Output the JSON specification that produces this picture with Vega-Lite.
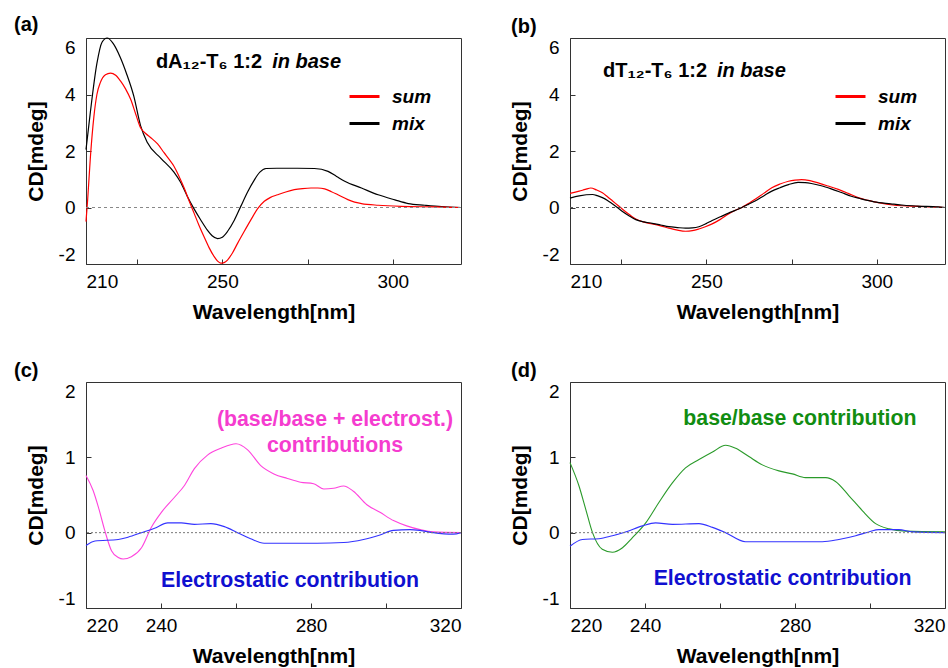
{
  "$schema": "https://vega.github.io/schema/vega-lite/v6.json",
  "background": "white",
  "padding": {"left": 13, "top": 14, "right": 0, "bottom": 0},
  "bounds": "flush",
  "columns": 2,
  "spacing": {"row": 118, "column": 109},
  "resolve": {"scale": {"color": "independent"}, "legend": {"color": "independent"}},
  "datasets": {
    "a": [
      {"wl":210,"cd":2.05,"s":"mix"},{"wl":211.3,"cd":3.4,"s":"mix"},{"wl":213.2,"cd":5.1,"s":"mix"},{"wl":214.7,"cd":5.85,"s":"mix"},{"wl":216.2,"cd":6.0,"s":"mix"},{"wl":218,"cd":5.8,"s":"mix"},{"wl":220.1,"cd":5.3,"s":"mix"},{"wl":222,"cd":4.7,"s":"mix"},{"wl":224,"cd":3.95,"s":"mix"},{"wl":226,"cd":2.9,"s":"mix"},{"wl":228,"cd":2.3,"s":"mix"},{"wl":231.9,"cd":1.75,"s":"mix"},{"wl":235.8,"cd":1.25,"s":"mix"},{"wl":237.7,"cd":0.9,"s":"mix"},{"wl":239.7,"cd":0.4,"s":"mix"},{"wl":241.7,"cd":-0.05,"s":"mix"},{"wl":243.7,"cd":-0.45,"s":"mix"},{"wl":245.6,"cd":-0.8,"s":"mix"},{"wl":247,"cd":-1.0,"s":"mix"},{"wl":248.6,"cd":-1.1,"s":"mix"},{"wl":250,"cd":-1.05,"s":"mix"},{"wl":251.5,"cd":-0.85,"s":"mix"},{"wl":253.5,"cd":-0.45,"s":"mix"},{"wl":255.4,"cd":0.04,"s":"mix"},{"wl":257.4,"cd":0.55,"s":"mix"},{"wl":259.4,"cd":0.98,"s":"mix"},{"wl":261,"cd":1.25,"s":"mix"},{"wl":262.8,"cd":1.38,"s":"mix"},{"wl":266,"cd":1.39,"s":"mix"},{"wl":272,"cd":1.39,"s":"mix"},{"wl":277,"cd":1.38,"s":"mix"},{"wl":281,"cd":1.28,"s":"mix"},{"wl":283.5,"cd":1.1,"s":"mix"},{"wl":285.9,"cd":0.93,"s":"mix"},{"wl":290.8,"cd":0.69,"s":"mix"},{"wl":295.7,"cd":0.45,"s":"mix"},{"wl":300.6,"cd":0.27,"s":"mix"},{"wl":304.5,"cd":0.14,"s":"mix"},{"wl":309.4,"cd":0.08,"s":"mix"},{"wl":314.3,"cd":0.03,"s":"mix"},{"wl":320,"cd":0,"s":"mix"},
      {"wl":210,"cd":-0.5,"s":"sum"},{"wl":210.5,"cd":0.3,"s":"sum"},{"wl":211.3,"cd":1.8,"s":"sum"},{"wl":212.3,"cd":3.2,"s":"sum"},{"wl":213.2,"cd":4.0,"s":"sum"},{"wl":214.2,"cd":4.42,"s":"sum"},{"wl":215.7,"cd":4.7,"s":"sum"},{"wl":217.2,"cd":4.76,"s":"sum"},{"wl":218.7,"cd":4.68,"s":"sum"},{"wl":220.1,"cd":4.48,"s":"sum"},{"wl":221.6,"cd":4.2,"s":"sum"},{"wl":223.1,"cd":3.83,"s":"sum"},{"wl":224.6,"cd":3.3,"s":"sum"},{"wl":226,"cd":2.82,"s":"sum"},{"wl":227.5,"cd":2.62,"s":"sum"},{"wl":229,"cd":2.47,"s":"sum"},{"wl":231,"cd":2.25,"s":"sum"},{"wl":232.9,"cd":1.94,"s":"sum"},{"wl":234.4,"cd":1.7,"s":"sum"},{"wl":235.8,"cd":1.46,"s":"sum"},{"wl":237.3,"cd":1.1,"s":"sum"},{"wl":238.8,"cd":0.69,"s":"sum"},{"wl":240.2,"cd":0.25,"s":"sum"},{"wl":241.7,"cd":-0.2,"s":"sum"},{"wl":243.1,"cd":-0.62,"s":"sum"},{"wl":244.6,"cd":-1.03,"s":"sum"},{"wl":246.1,"cd":-1.42,"s":"sum"},{"wl":247.6,"cd":-1.74,"s":"sum"},{"wl":248.6,"cd":-1.9,"s":"sum"},{"wl":249.5,"cd":-1.97,"s":"sum"},{"wl":250.5,"cd":-1.95,"s":"sum"},{"wl":251.5,"cd":-1.86,"s":"sum"},{"wl":253,"cd":-1.6,"s":"sum"},{"wl":254.5,"cd":-1.26,"s":"sum"},{"wl":256.4,"cd":-0.85,"s":"sum"},{"wl":258.4,"cd":-0.43,"s":"sum"},{"wl":260.3,"cd":-0.05,"s":"sum"},{"wl":262.3,"cd":0.22,"s":"sum"},{"wl":264,"cd":0.35,"s":"sum"},{"wl":266.2,"cd":0.45,"s":"sum"},{"wl":268.6,"cd":0.55,"s":"sum"},{"wl":271.1,"cd":0.63,"s":"sum"},{"wl":273.5,"cd":0.67,"s":"sum"},{"wl":276,"cd":0.69,"s":"sum"},{"wl":278,"cd":0.69,"s":"sum"},{"wl":280,"cd":0.66,"s":"sum"},{"wl":282,"cd":0.56,"s":"sum"},{"wl":283.9,"cd":0.45,"s":"sum"},{"wl":286.8,"cd":0.28,"s":"sum"},{"wl":288.8,"cd":0.19,"s":"sum"},{"wl":290.8,"cd":0.14,"s":"sum"},{"wl":295.7,"cd":0.08,"s":"sum"},{"wl":302.5,"cd":0.04,"s":"sum"},{"wl":312.4,"cd":0.02,"s":"sum"},{"wl":320,"cd":0,"s":"sum"}
    ],
    "b": [
      {"wl":210,"cd":0.5,"s":"sum"},{"wl":212.7,"cd":0.58,"s":"sum"},{"wl":214.5,"cd":0.64,"s":"sum"},{"wl":216.1,"cd":0.69,"s":"sum"},{"wl":217.8,"cd":0.62,"s":"sum"},{"wl":219.5,"cd":0.52,"s":"sum"},{"wl":221,"cd":0.38,"s":"sum"},{"wl":222.5,"cd":0.23,"s":"sum"},{"wl":224,"cd":0.08,"s":"sum"},{"wl":225.4,"cd":-0.06,"s":"sum"},{"wl":227.4,"cd":-0.25,"s":"sum"},{"wl":229.3,"cd":-0.41,"s":"sum"},{"wl":231.7,"cd":-0.52,"s":"sum"},{"wl":234.1,"cd":-0.58,"s":"sum"},{"wl":236.6,"cd":-0.65,"s":"sum"},{"wl":239,"cd":-0.73,"s":"sum"},{"wl":241.5,"cd":-0.8,"s":"sum"},{"wl":243.9,"cd":-0.84,"s":"sum"},{"wl":245.9,"cd":-0.82,"s":"sum"},{"wl":247.8,"cd":-0.76,"s":"sum"},{"wl":249.7,"cd":-0.68,"s":"sum"},{"wl":251.7,"cd":-0.58,"s":"sum"},{"wl":254.1,"cd":-0.42,"s":"sum"},{"wl":256.5,"cd":-0.23,"s":"sum"},{"wl":258.5,"cd":-0.1,"s":"sum"},{"wl":260.4,"cd":0,"s":"sum"},{"wl":262.3,"cd":0.14,"s":"sum"},{"wl":264.3,"cd":0.29,"s":"sum"},{"wl":266.8,"cd":0.5,"s":"sum"},{"wl":269.2,"cd":0.7,"s":"sum"},{"wl":271.6,"cd":0.83,"s":"sum"},{"wl":274.1,"cd":0.93,"s":"sum"},{"wl":276,"cd":0.97,"s":"sum"},{"wl":277.9,"cd":0.99,"s":"sum"},{"wl":280.4,"cd":0.95,"s":"sum"},{"wl":282.8,"cd":0.87,"s":"sum"},{"wl":285.7,"cd":0.76,"s":"sum"},{"wl":288.7,"cd":0.64,"s":"sum"},{"wl":291.6,"cd":0.5,"s":"sum"},{"wl":294.5,"cd":0.35,"s":"sum"},{"wl":297.5,"cd":0.25,"s":"sum"},{"wl":300.4,"cd":0.17,"s":"sum"},{"wl":305.2,"cd":0.08,"s":"sum"},{"wl":310.1,"cd":0.05,"s":"sum"},{"wl":314,"cd":0.03,"s":"sum"},{"wl":317.9,"cd":0.01,"s":"sum"},{"wl":320,"cd":0,"s":"sum"},
      {"wl":210,"cd":0.33,"s":"mix"},{"wl":212.7,"cd":0.41,"s":"mix"},{"wl":216.6,"cd":0.46,"s":"mix"},{"wl":218,"cd":0.42,"s":"mix"},{"wl":219.5,"cd":0.35,"s":"mix"},{"wl":221,"cd":0.25,"s":"mix"},{"wl":222.5,"cd":0.12,"s":"mix"},{"wl":224,"cd":-0.01,"s":"mix"},{"wl":225.4,"cd":-0.14,"s":"mix"},{"wl":227.4,"cd":-0.3,"s":"mix"},{"wl":229.3,"cd":-0.43,"s":"mix"},{"wl":231.7,"cd":-0.51,"s":"mix"},{"wl":234.1,"cd":-0.56,"s":"mix"},{"wl":236.6,"cd":-0.62,"s":"mix"},{"wl":239,"cd":-0.68,"s":"mix"},{"wl":241.5,"cd":-0.71,"s":"mix"},{"wl":243.9,"cd":-0.73,"s":"mix"},{"wl":245.9,"cd":-0.72,"s":"mix"},{"wl":247.8,"cd":-0.68,"s":"mix"},{"wl":249.8,"cd":-0.58,"s":"mix"},{"wl":251.7,"cd":-0.46,"s":"mix"},{"wl":254.1,"cd":-0.33,"s":"mix"},{"wl":256.5,"cd":-0.2,"s":"mix"},{"wl":258.5,"cd":-0.1,"s":"mix"},{"wl":260.4,"cd":0,"s":"mix"},{"wl":262.3,"cd":0.11,"s":"mix"},{"wl":264.3,"cd":0.23,"s":"mix"},{"wl":266.8,"cd":0.41,"s":"mix"},{"wl":269.2,"cd":0.58,"s":"mix"},{"wl":271.6,"cd":0.7,"s":"mix"},{"wl":274.1,"cd":0.81,"s":"mix"},{"wl":276.9,"cd":0.89,"s":"mix"},{"wl":279,"cd":0.88,"s":"mix"},{"wl":280.8,"cd":0.85,"s":"mix"},{"wl":283.7,"cd":0.77,"s":"mix"},{"wl":286.6,"cd":0.66,"s":"mix"},{"wl":289.6,"cd":0.53,"s":"mix"},{"wl":292.5,"cd":0.4,"s":"mix"},{"wl":295,"cd":0.32,"s":"mix"},{"wl":297.3,"cd":0.25,"s":"mix"},{"wl":299.2,"cd":0.2,"s":"mix"},{"wl":304.1,"cd":0.13,"s":"mix"},{"wl":308,"cd":0.08,"s":"mix"},{"wl":312,"cd":0.05,"s":"mix"},{"wl":317.9,"cd":0.02,"s":"mix"},{"wl":320,"cd":0,"s":"mix"}
    ],
    "c": [
      {"wl":220,"cd":0.76,"s":"bb"},{"wl":221.9,"cd":0.56,"s":"bb"},{"wl":223.3,"cd":0.34,"s":"bb"},{"wl":225,"cd":0.03,"s":"bb"},{"wl":226.8,"cd":-0.24,"s":"bb"},{"wl":228.6,"cd":-0.33,"s":"bb"},{"wl":229.9,"cd":-0.35,"s":"bb"},{"wl":232.1,"cd":-0.32,"s":"bb"},{"wl":234.8,"cd":-0.2,"s":"bb"},{"wl":237.4,"cd":0.07,"s":"bb"},{"wl":240.1,"cd":0.27,"s":"bb"},{"wl":243.6,"cd":0.47,"s":"bb"},{"wl":246.3,"cd":0.63,"s":"bb"},{"wl":248.9,"cd":0.85,"s":"bb"},{"wl":252.4,"cd":1.03,"s":"bb"},{"wl":256,"cd":1.12,"s":"bb"},{"wl":260,"cd":1.18,"s":"bb"},{"wl":263.1,"cd":1.1,"s":"bb"},{"wl":266.6,"cd":0.89,"s":"bb"},{"wl":270.1,"cd":0.78,"s":"bb"},{"wl":273.7,"cd":0.72,"s":"bb"},{"wl":277.2,"cd":0.67,"s":"bb"},{"wl":280.7,"cd":0.65,"s":"bb"},{"wl":283.4,"cd":0.58,"s":"bb"},{"wl":286,"cd":0.59,"s":"bb"},{"wl":288.7,"cd":0.62,"s":"bb"},{"wl":291.3,"cd":0.55,"s":"bb"},{"wl":294.9,"cd":0.37,"s":"bb"},{"wl":298.4,"cd":0.27,"s":"bb"},{"wl":302,"cd":0.16,"s":"bb"},{"wl":305.5,"cd":0.09,"s":"bb"},{"wl":309.1,"cd":0.04,"s":"bb"},{"wl":312.6,"cd":0.01,"s":"bb"},{"wl":320,"cd":0,"s":"bb"},
      {"wl":220,"cd":-0.17,"s":"el"},{"wl":222.4,"cd":-0.11,"s":"el"},{"wl":228.6,"cd":-0.09,"s":"el"},{"wl":231.2,"cd":-0.06,"s":"el"},{"wl":234.8,"cd":0,"s":"el"},{"wl":238.3,"cd":0.06,"s":"el"},{"wl":241.8,"cd":0.13,"s":"el"},{"wl":245.4,"cd":0.13,"s":"el"},{"wl":248.9,"cd":0.11,"s":"el"},{"wl":253.3,"cd":0.12,"s":"el"},{"wl":256.9,"cd":0.08,"s":"el"},{"wl":260.4,"cd":0,"s":"el"},{"wl":263.9,"cd":-0.08,"s":"el"},{"wl":267.5,"cd":-0.14,"s":"el"},{"wl":272.8,"cd":-0.14,"s":"el"},{"wl":281.6,"cd":-0.14,"s":"el"},{"wl":288.7,"cd":-0.13,"s":"el"},{"wl":294,"cd":-0.09,"s":"el"},{"wl":298.4,"cd":-0.03,"s":"el"},{"wl":302,"cd":0.03,"s":"el"},{"wl":306.4,"cd":0.04,"s":"el"},{"wl":309,"cd":0.03,"s":"el"},{"wl":312.6,"cd":0,"s":"el"},{"wl":317.9,"cd":-0.02,"s":"el"},{"wl":320,"cd":0,"s":"el"}
    ],
    "d": [
      {"wl":220,"cd":0.93,"s":"bb"},{"wl":222.4,"cd":0.62,"s":"bb"},{"wl":224.2,"cd":0.31,"s":"bb"},{"wl":226,"cd":0,"s":"bb"},{"wl":228.6,"cd":-0.22,"s":"bb"},{"wl":231.3,"cd":-0.26,"s":"bb"},{"wl":234,"cd":-0.2,"s":"bb"},{"wl":236.6,"cd":-0.07,"s":"bb"},{"wl":240.2,"cd":0.13,"s":"bb"},{"wl":243.7,"cd":0.4,"s":"bb"},{"wl":247.3,"cd":0.66,"s":"bb"},{"wl":250.8,"cd":0.86,"s":"bb"},{"wl":254.4,"cd":0.97,"s":"bb"},{"wl":258,"cd":1.07,"s":"bb"},{"wl":261.5,"cd":1.16,"s":"bb"},{"wl":264.2,"cd":1.12,"s":"bb"},{"wl":267.7,"cd":1.01,"s":"bb"},{"wl":271.3,"cd":0.9,"s":"bb"},{"wl":275.7,"cd":0.82,"s":"bb"},{"wl":279.3,"cd":0.78,"s":"bb"},{"wl":282.8,"cd":0.73,"s":"bb"},{"wl":288.2,"cd":0.73,"s":"bb"},{"wl":290.8,"cd":0.68,"s":"bb"},{"wl":294.4,"cd":0.49,"s":"bb"},{"wl":298,"cd":0.29,"s":"bb"},{"wl":301.5,"cd":0.12,"s":"bb"},{"wl":305.1,"cd":0.05,"s":"bb"},{"wl":309.5,"cd":0.02,"s":"bb"},{"wl":320,"cd":0.01,"s":"bb"},
      {"wl":220,"cd":-0.18,"s":"el"},{"wl":223.3,"cd":-0.09,"s":"el"},{"wl":227.7,"cd":-0.08,"s":"el"},{"wl":231.3,"cd":-0.04,"s":"el"},{"wl":234.8,"cd":0.01,"s":"el"},{"wl":239.3,"cd":0.09,"s":"el"},{"wl":242.8,"cd":0.13,"s":"el"},{"wl":247.3,"cd":0.11,"s":"el"},{"wl":254.4,"cd":0.12,"s":"el"},{"wl":258,"cd":0.07,"s":"el"},{"wl":261.5,"cd":0,"s":"el"},{"wl":266.8,"cd":-0.12,"s":"el"},{"wl":275.7,"cd":-0.12,"s":"el"},{"wl":287.3,"cd":-0.12,"s":"el"},{"wl":291.7,"cd":-0.09,"s":"el"},{"wl":296.2,"cd":-0.04,"s":"el"},{"wl":299.7,"cd":0.01,"s":"el"},{"wl":302.4,"cd":0.04,"s":"el"},{"wl":307.7,"cd":0.04,"s":"el"},{"wl":311.3,"cd":0.01,"s":"el"},{"wl":320,"cd":0,"s":"el"}
    ]
  },
  "concat": [
    {
      "title": {"text": "(a)", "dx": -72},
      "width": 375, "height": 226,
      "layer": [
        {
          "data": {"name": "a"},
          "mark": {"type": "line", "strokeWidth": 1.2, "interpolate": "monotone"},
          "encoding": {
            "x": {"field": "wl", "type": "quantitative", "scale": {"domain": [210, 320], "nice": false, "zero": false},
                  "axis": {"title": "Wavelength[nm]", "values": [210, 225, 250, 275, 300], "labelExpr": "indexof([210,250,300], datum.value) >= 0 ? '' + datum.value : ''"}},
            "y": {"field": "cd", "type": "quantitative", "scale": {"domain": [-2, 6], "nice": false},
                  "axis": {"title": "CD[mdeg]", "values": [-2,-1,0,1,2,3,4,5,6], "labelExpr": "datum.value % 2 === 0 ? '' + datum.value : ''"}},
            "color": {"field": "s", "type": "nominal", "scale": {"domain": ["sum", "mix"], "range": ["#ff0000", "#000000"]},
                      "legend": {"orient": "none", "legendX": 262, "legendY": 42}}
          }
        },
        {"data": {"values": [{}]}, "mark": {"type": "rule", "color": "#888888", "strokeDash": [3, 3], "strokeWidth": 1}, "encoding": {"y": {"datum": 0, "type": "quantitative"}}},
        {"data": {"values": [{}]}, "mark": {"type": "text", "align": "left", "baseline": "middle", "fontWeight": "bold", "fontSize": 20}, "encoding": {"x": {"datum": 230.5, "type": "quantitative"}, "y": {"datum": 5.15, "type": "quantitative"}, "text": {"value": "dA₁₂-T₆ 1:2"}}},
        {"data": {"values": [{}]}, "mark": {"type": "text", "align": "left", "baseline": "middle", "fontWeight": "bold", "fontStyle": "italic", "fontSize": 20}, "encoding": {"x": {"datum": 264.6, "type": "quantitative"}, "y": {"datum": 5.15, "type": "quantitative"}, "text": {"value": "in base"}}}
      ]
    },
    {
      "title": {"text": "(b)", "dx": -59},
      "width": 375, "height": 226,
      "layer": [
        {
          "data": {"name": "b"},
          "mark": {"type": "line", "strokeWidth": 1.2, "interpolate": "monotone"},
          "encoding": {
            "x": {"field": "wl", "type": "quantitative", "scale": {"domain": [210, 320], "nice": false, "zero": false},
                  "axis": {"title": "Wavelength[nm]", "values": [210, 225, 250, 275, 300], "labelExpr": "indexof([210,250,300], datum.value) >= 0 ? '' + datum.value : ''"}},
            "y": {"field": "cd", "type": "quantitative", "scale": {"domain": [-2, 6], "nice": false},
                  "axis": {"title": "CD[mdeg]", "values": [-2,-1,0,1,2,3,4,5,6], "labelExpr": "datum.value % 2 === 0 ? '' + datum.value : ''"}},
            "color": {"field": "s", "type": "nominal", "scale": {"domain": ["sum", "mix"], "range": ["#ff0000", "#000000"]},
                      "legend": {"orient": "none", "legendX": 264, "legendY": 42}}
          }
        },
        {"data": {"values": [{}]}, "mark": {"type": "rule", "color": "#555555", "strokeDash": [3, 3], "strokeWidth": 1}, "encoding": {"y": {"datum": 0, "type": "quantitative"}}},
        {"data": {"values": [{}]}, "mark": {"type": "text", "align": "left", "baseline": "middle", "fontWeight": "bold", "fontSize": 20}, "encoding": {"x": {"datum": 219.7, "type": "quantitative"}, "y": {"datum": 4.82, "type": "quantitative"}, "text": {"value": "dT₁₂-T₆ 1:2"}}},
        {"data": {"values": [{}]}, "mark": {"type": "text", "align": "left", "baseline": "middle", "fontWeight": "bold", "fontStyle": "italic", "fontSize": 20}, "encoding": {"x": {"datum": 253.1, "type": "quantitative"}, "y": {"datum": 4.82, "type": "quantitative"}, "text": {"value": "in base"}}}
      ]
    },
    {
      "title": {"text": "(c)", "dx": -72},
      "width": 375, "height": 226,
      "layer": [
        {
          "data": {"name": "c"},
          "mark": {"type": "line", "strokeWidth": 1.1, "interpolate": "monotone"},
          "encoding": {
            "x": {"field": "wl", "type": "quantitative", "scale": {"domain": [220, 320], "nice": false, "zero": false},
                  "axis": {"title": "Wavelength[nm]", "values": [220, 240, 260, 280, 300, 320], "labelExpr": "indexof([220,240,280,320], datum.value) >= 0 ? '' + datum.value : ''"}},
            "y": {"field": "cd", "type": "quantitative", "scale": {"domain": [-1, 2], "nice": false},
                  "axis": {"title": "CD[mdeg]", "values": [-1,-0.5,0,0.5,1,1.5,2], "labelExpr": "datum.value % 1 === 0 ? '' + datum.value : ''"}},
            "color": {"field": "s", "type": "nominal", "scale": {"domain": ["bb", "el"], "range": ["#ff44dd", "#3333ff"]}, "legend": null}
          }
        },
        {"data": {"values": [{}]}, "mark": {"type": "rule", "color": "#777777", "strokeDash": [2, 2], "strokeWidth": 1}, "encoding": {"y": {"datum": 0, "type": "quantitative"}}},
        {"data": {"values": [{}]}, "mark": {"type": "text", "align": "center", "baseline": "middle", "fontWeight": "bold", "fontSize": 21.3, "color": "#f53ccf", "lineHeight": 26, "text": ["(base/base + electrost.)", "contributions"]}, "encoding": {"x": {"datum": 286.4, "type": "quantitative"}, "y": {"datum": 1.5, "type": "quantitative"}}},
        {"data": {"values": [{}]}, "mark": {"type": "text", "align": "center", "baseline": "middle", "fontWeight": "bold", "fontSize": 21.3, "color": "#1010d0"}, "encoding": {"x": {"datum": 274.4, "type": "quantitative"}, "y": {"datum": -0.64, "type": "quantitative"}, "text": {"value": "Electrostatic contribution"}}}
      ]
    },
    {
      "title": {"text": "(d)", "dx": -59},
      "width": 375, "height": 226,
      "layer": [
        {
          "data": {"name": "d"},
          "mark": {"type": "line", "strokeWidth": 1.1, "interpolate": "monotone"},
          "encoding": {
            "x": {"field": "wl", "type": "quantitative", "scale": {"domain": [220, 320], "nice": false, "zero": false},
                  "axis": {"title": "Wavelength[nm]", "values": [220, 240, 260, 280, 300, 320], "labelExpr": "indexof([220,240,280,320], datum.value) >= 0 ? '' + datum.value : ''"}},
            "y": {"field": "cd", "type": "quantitative", "scale": {"domain": [-1, 2], "nice": false},
                  "axis": {"title": "CD[mdeg]", "values": [-1,-0.5,0,0.5,1,1.5,2], "labelExpr": "datum.value % 1 === 0 ? '' + datum.value : ''"}},
            "color": {"field": "s", "type": "nominal", "scale": {"domain": ["bb", "el"], "range": ["#2a9a2a", "#3333ff"]}, "legend": null}
          }
        },
        {"data": {"values": [{}]}, "mark": {"type": "rule", "color": "#777777", "strokeDash": [2, 2], "strokeWidth": 1}, "encoding": {"y": {"datum": 0, "type": "quantitative"}}},
        {"data": {"values": [{}]}, "mark": {"type": "text", "align": "center", "baseline": "middle", "fontWeight": "bold", "fontSize": 21.3, "color": "#118d11"}, "encoding": {"x": {"datum": 281.3, "type": "quantitative"}, "y": {"datum": 1.51, "type": "quantitative"}, "text": {"value": "base/base contribution"}}},
        {"data": {"values": [{}]}, "mark": {"type": "text", "align": "center", "baseline": "middle", "fontWeight": "bold", "fontSize": 21.3, "color": "#1010d0"}, "encoding": {"x": {"datum": 276.7, "type": "quantitative"}, "y": {"datum": -0.615, "type": "quantitative"}, "text": {"value": "Electrostatic contribution"}}}
      ]
    }
  ],
  "config": {
    "font": "Liberation Sans",
    "view": {"stroke": "#333333", "strokeWidth": 1},
    "title": {"anchor": "start", "frame": "group", "fontSize": 20, "fontWeight": "bold", "color": "#000000", "offset": 1, "baseline": "alphabetic", "font": "Liberation Sans"},
    "text": {"font": "Liberation Sans", "color": "#000000"},
    "axis": {
      "labelFont": "Liberation Sans", "titleFont": "Liberation Sans",
      "labelFontSize": 19, "titleFontSize": 21, "titleFontWeight": "bold",
      "labelColor": "#000000", "titleColor": "#000000",
      "grid": false, "domain": false, "tickSize": -5, "tickColor": "#333333",
      "labelFlush": true, "labelOverlap": false
    },
    "axisX": {"labelPadding": 13, "titlePadding": 10},
    "axisY": {"labelPadding": 16, "titlePadding": 12},
    "legend": {
      "title": null, "symbolType": "stroke", "symbolSize": 900, "symbolStrokeWidth": 3,
      "labelFont": "Liberation Sans", "labelFontSize": 19, "labelFontStyle": "italic", "labelFontWeight": "bold",
      "labelColor": "#000000", "labelOffset": 11, "rowPadding": 0, "padding": 0
    }
  }
}
